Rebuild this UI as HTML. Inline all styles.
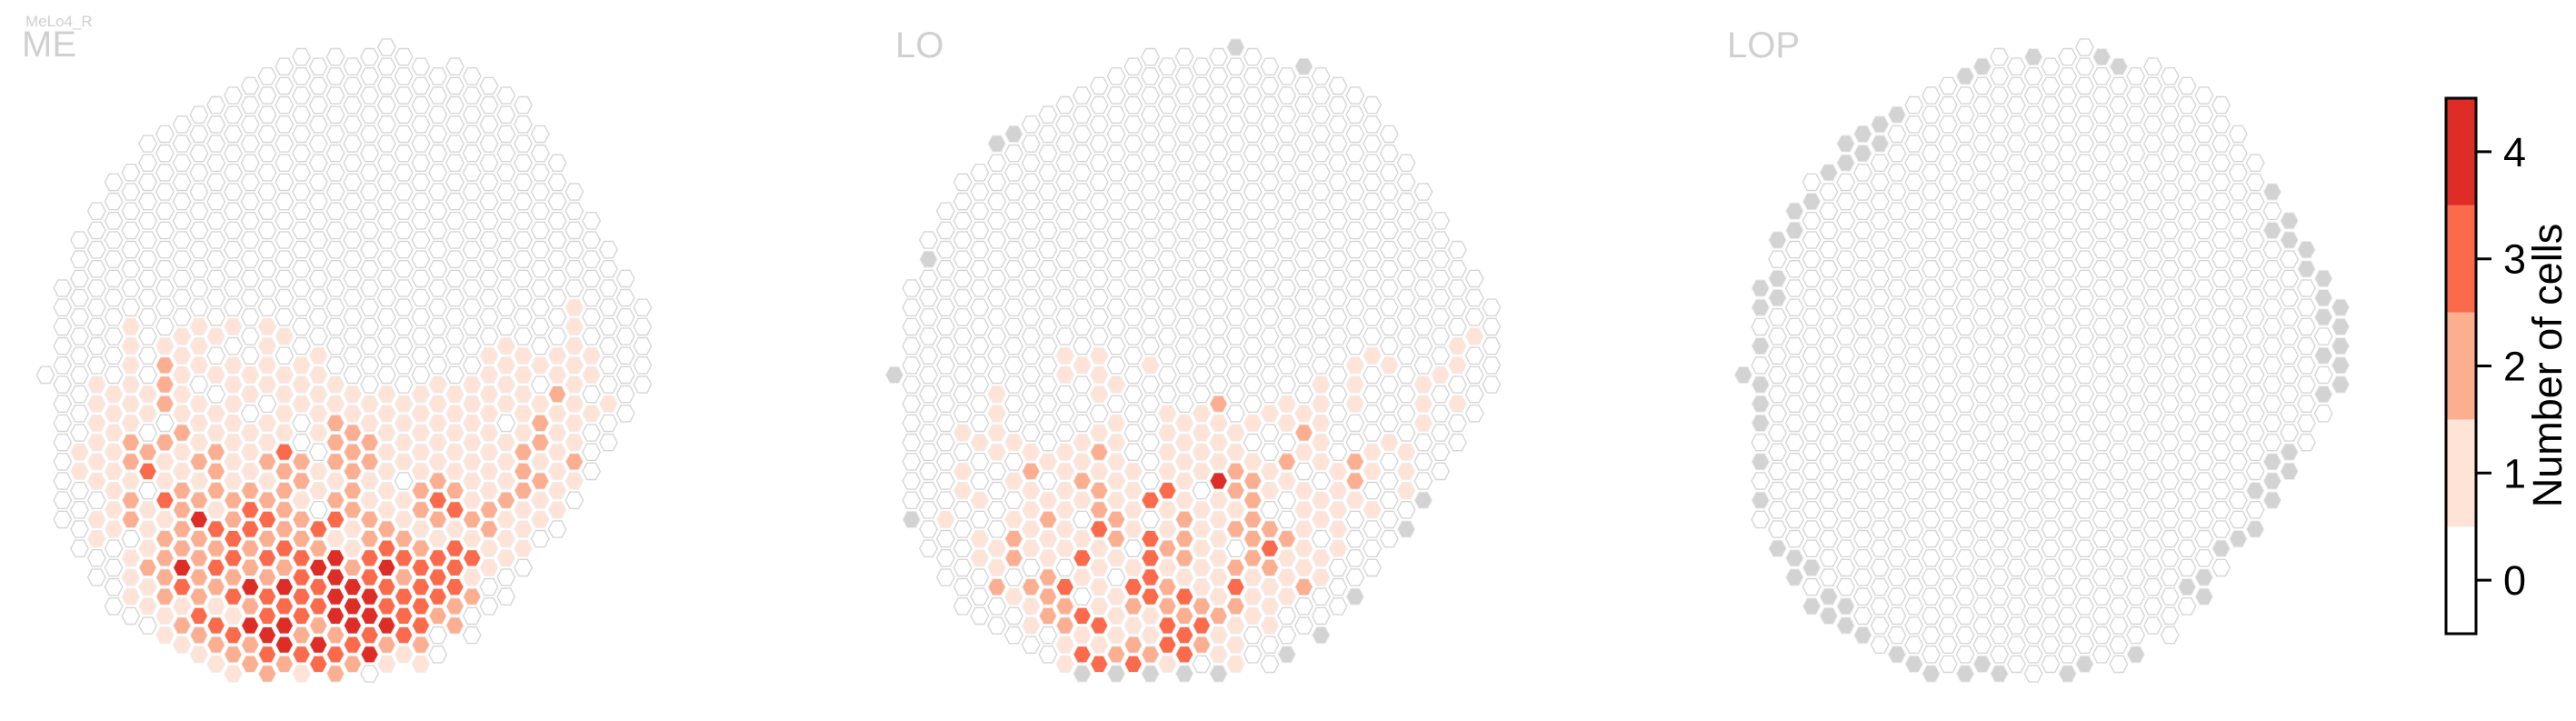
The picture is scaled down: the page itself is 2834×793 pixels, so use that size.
<!DOCTYPE html>
<html><head><meta charset="utf-8">
<style>
html,body{margin:0;padding:0;background:#fff;}
svg{display:block;font-family:"Liberation Sans",Arial,sans-serif;}
</style></head>
<body>
<svg id="chart" width="2834" height="793" viewBox="0 0 2834 793" xmlns="http://www.w3.org/2000/svg">
<text x="28" y="29" font-size="17" fill="#d0d0d0">MeLo4_R</text>
<text x="24" y="62" font-size="40" fill="#d0d0d0">ME</text>
<text x="985" y="63" font-size="40" fill="#d0d0d0">LO</text>
<text x="1900" y="63" font-size="40" fill="#d0d0d0">LOP</text>
<g id="panels"></g>
<g id="colorbar"></g>
</svg>
<script>
function z(n){return "0".repeat(n);}
// shared column layout (half-row indices)
const colTop    = [34,25,20,17,14,13,10,9,8,7,6,5,4,3,2,1,2,1,2,1,0,1,2,3,2,3,4,5,6,9,12,15,18,21,24,27];
const colBottom = [34,49,52,55,58,59,60,61,62,63,64,65,64,65,64,65,64,65,64,65,64,63,64,63,60,61,58,57,54,51,50,47,44,41,38,35];
// values per column, bottom aligned ('g' = no data)
const meValues = ["0","0","000000110000","00011111101100","000111111110000","1111112212201110","0001102301112110","01222021131222211","11111211222243121","111011121242222321","101011222132321321","1011111112233231321","001101112332242422","1111011212323233432","101111322223243442","0011100221223333231","011111011032433243","0001122212314444232","000112222211244432","0000112211223344340","000111111123433421","000011110112323331","000111112212333321","000111112321333200","0001111123133322","00011111112131200","011111111221100","011110111211100","0111112221110","001012212110","01121111110","11111111210","01101000","0000100","0","0"];
const loValues = ["g","g","0g"+z(15),"1000","1011000000","1001011000","g"+z(12)+"1111000011200","g"+z(15)+"10101220100","12111102110","10121122200","11000111111032211","1000112101310313g","11101212231111313","101111122101112g","11110132123","1000000303333112g","11113112122331","1111122213233g","11110111112320","21114111111211g","g"+z(19)+"1122120232111","1012222211100","10011023211100","1102100211100g","g"+z(17)+"121011111200","1111101101100g","11111000","111002210000g","100001101000","1000100000","1110g","111000g","100000","110100","10000","0"];
const lopValues = ["g","gg0g0ggg0g0g0","g0gg"+z(12)+"g","gg"+z(16)+"gg","0g"+z(18)+"g0g","g"+z(21)+"gg","gg"+z(22)+"gg","gg"+z(24)+"g","gg"+z(26),"g"+z(27)+"g","g","g","0","g"+z(30)+"g","g"+z(30)+"g","g","0","g"+z(32),"0","g","g","g"+z(31),"g"+z(31),"g","0","0","g0","gg","g0","g","g0g","g0g"+z(11)+"ggg","gg"+z(10)+"gg","gg"+z(9),"ggg0g0g0","ggggg"];
const panelNames = ["me","lo","lop"];
const cbTicks = [0,1,2,3,4];
const cbLabel = "Number of cells";

const colors = {"0":"#ffffff","1":"#fee3d6","2":"#fcae91","3":"#fb6a4a","4":"#de2d26","g":"#d3d3d3"};
const panelX0 = [50,984,1918];
const DX = 18.77, HY = 10.6, Y0 = 52;
const ns = "http://www.w3.org/2000/svg";
const xPos = (p,c) => panelX0[p] + c*DX;
const yPos = h => Y0 + h*HY;

const panelsG = document.getElementById('panels');
[meValues, loValues, lopValues].forEach((vals,p)=>{
  const g = document.createElementNS(ns,'g');
  
  
  panelsG.appendChild(g);
  for(let c=0;c<colTop.length;c++){
    const n = (colBottom[c]-colTop[c])/2+1;
    let s = vals[c];
    if(s.length<n) s = "0".repeat(n-s.length)+s;
    for(let i=0;i<n;i++){
      const h = colTop[c]+2*i;
      const v = s[i];
      const cx = xPos(p,c), cy = yPos(h);
      const R=9.7, r=4.85, ry=9.1;
      const pts = [[cx-R,cy],[cx-r,cy-ry],[cx+r,cy-ry],[cx+R,cy],[cx+r,cy+ry],[cx-r,cy+ry]].map(q=>q[0].toFixed(1)+','+q[1].toFixed(1)).join(' ');
      const poly = document.createElementNS(ns,'polygon');
      poly.setAttribute('points',pts);
      poly.setAttribute('fill',colors[v]);
      if(v==="0"){poly.setAttribute('stroke','#d6d6d6');poly.setAttribute('stroke-width','1.4');}
      else {poly.setAttribute('stroke','#eeeeee');poly.setAttribute('stroke-width','1');}
      
      
      g.appendChild(poly);
    }
  }
});

// colorbar
const cb = document.getElementById('colorbar');
const cbX = 2691, cbW = 33, cbTop = 108, cbBot = 697, vMin=-0.5, vMax=4.5;
const cbY = v => cbBot - (v-vMin)/(vMax-vMin)*(cbBot-cbTop);
cbTicks.forEach(v=>{
  const rect = document.createElementNS(ns,'rect');
  rect.setAttribute('x',cbX); rect.setAttribute('width',cbW);
  rect.setAttribute('y',cbY(v+0.5)); rect.setAttribute('height',cbY(v-0.5)-cbY(v+0.5));
  rect.setAttribute('fill',colors[String(v)]);
  
  
  cb.appendChild(rect);
});
const frame = document.createElementNS(ns,'rect');
frame.setAttribute('x',cbX); frame.setAttribute('y',cbTop); frame.setAttribute('width',cbW); frame.setAttribute('height',cbBot-cbTop);
frame.setAttribute('fill','none'); frame.setAttribute('stroke','#000'); frame.setAttribute('stroke-width','3');


cb.appendChild(frame);
cbTicks.forEach(v=>{
  const y = cbY(v);
  const ln = document.createElementNS(ns,'line');
  ln.setAttribute('x1',cbX+cbW); ln.setAttribute('x2',cbX+cbW+17); ln.setAttribute('y1',y); ln.setAttribute('y2',y);
  ln.setAttribute('stroke','#000'); ln.setAttribute('stroke-width','3');
  
  
  cb.appendChild(ln);
  const t = document.createElementNS(ns,'text');
  t.setAttribute('x',cbX+cbW+30); t.setAttribute('y',y+16);
  t.setAttribute('font-size','45'); t.setAttribute('fill','#000');
  t.textContent = String(v);
  
  
  cb.appendChild(t);
});
const title = document.createElementNS(ns,'text');
title.setAttribute('transform','translate(2818,402) rotate(-90)');
title.setAttribute('text-anchor','middle');
title.setAttribute('font-size','45'); title.setAttribute('fill','#000');
title.textContent = cbLabel;


cb.appendChild(title);
</script>
</body></html>
